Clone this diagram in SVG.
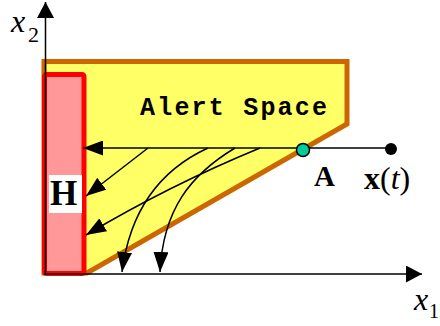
<svg xmlns="http://www.w3.org/2000/svg" width="440" height="326" viewBox="0 0 440 326">
<style>
.serif{font-family:"Liberation Serif","Times New Roman",serif;fill:#000}
.it{font-style:italic}
.b{font-weight:bold}
.ax{stroke:#000;stroke-width:1.5;fill:none}
.con{stroke:#000;stroke-width:1.5;fill:none;marker-end:url(#ah)}
</style>
<defs>
<marker id="ah" viewBox="0 0 20 15" refX="20" refY="7.5" markerWidth="20" markerHeight="15" markerUnits="userSpaceOnUse" orient="auto">
<path d="M0,0 L20,7.5 L0,15 Z" fill="#000"/>
</marker>
<marker id="axh" viewBox="0 0 16 17" refX="16" refY="8.5" markerWidth="16" markerHeight="17" markerUnits="userSpaceOnUse" orient="auto">
<path d="M0,0 L16,8.5 L0,17 Z" fill="#000"/>
</marker>
</defs>
<g id="alert-space">
<polygon points="44,61.5 347,61.5 347,124 87,273 44,273" fill="#FFFF66" stroke="#CC6600" stroke-width="5" stroke-linejoin="miter"/>
<text x="140" y="115" font-family="'Liberation Mono','Courier New',monospace" font-weight="bold" font-size="25" letter-spacing="2.2" fill="#000">Alert Space</text>
</g>
<g id="H">
<rect x="44.5" y="74.5" width="39.5" height="199" rx="2" fill="#FF9999" stroke="#FF0000" stroke-width="5"/>
<rect x="49" y="175" width="33" height="38" fill="#FFFFFF"/>
<text x="50" y="205" class="serif b" font-size="35">H</text>
</g>
<g id="axes">
<line x1="45.5" y1="275" x2="45.5" y2="2" class="ax" marker-end="url(#axh)"/>
<line x1="44" y1="274" x2="422" y2="274" class="ax" marker-end="url(#axh)"/>
<text x="11" y="32" class="serif it" font-size="32">x</text>
<text x="28" y="42" class="serif" font-size="22">2</text>
<text x="414" y="310" class="serif it" font-size="32">x</text>
<text x="429" y="318" class="serif" font-size="20">1</text>
</g>
<g id="connectors">
<line x1="391" y1="148" x2="83" y2="148" class="con"/>
<line x1="148" y1="148" x2="86" y2="196" class="con"/>
<path d="M208,148 C160,170 130,210 122,272" class="con"/>
<path d="M235,148 C190,175 163,210 160,272" class="con"/>
<path d="M260,148 Q170,185 86,235" class="con"/>
</g>
<g id="point-A">
<circle cx="303" cy="150" r="6.5" fill="#00CC99" stroke="#000" stroke-width="1.5"/>
<text x="314" y="186" class="serif b" font-size="29">A</text>
</g>
<g id="point-x">
<circle cx="391" cy="149" r="6" fill="#000"/>
<text x="364" y="189" class="serif" font-size="32"><tspan class="b">x</tspan>(<tspan class="it">t</tspan>)</text>
</g>
</svg>
